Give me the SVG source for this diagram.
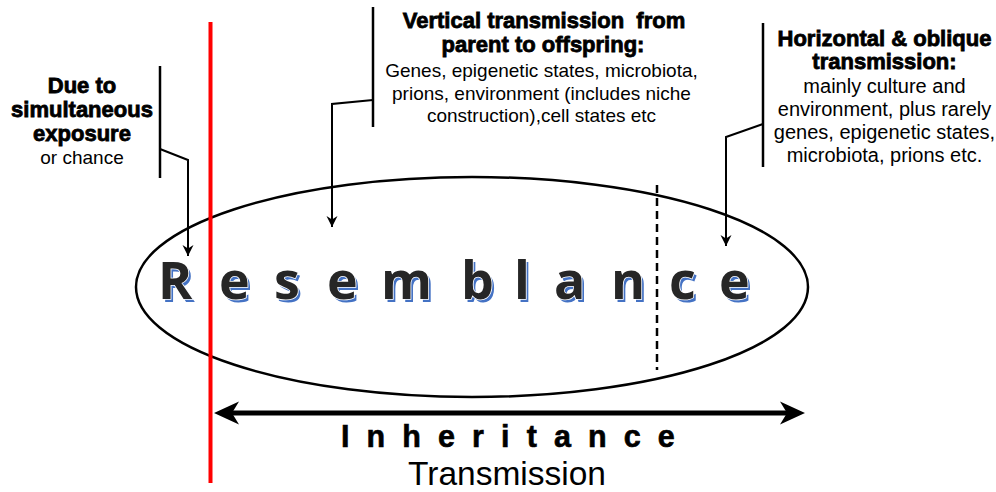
<svg xmlns="http://www.w3.org/2000/svg" width="996" height="492" viewBox="0 0 996 492">
  <style>
    .bold { font-family: "Liberation Sans", Arial, sans-serif; font-weight: bold; font-size: 22px; fill: #000; stroke: #000; stroke-width: 0.8; text-anchor: middle; }
    .reg { font-family: "Liberation Sans", Arial, sans-serif; font-size: 19px; fill: #000; text-anchor: middle; }
    .reg20 { font-size: 20px; }
    .bracket { fill: none; stroke: #000; stroke-width: 2.5; }
    .conn { fill: none; stroke: #000; stroke-width: 2; }
    .big { font-family: "Open Sans", "Noto Sans", sans-serif; font-weight: bold; font-size: 52px; }
  </style>
  <defs>
    <marker id="tip" viewBox="0 0 12 12" refX="11" refY="6" markerWidth="12" markerHeight="12" markerUnits="userSpaceOnUse" orient="auto">
      <path d="M0,0.5 L11,6 L0,11.5 L3.5,6 Z" fill="#000"/>
    </marker>
  </defs>

  <!-- the resemblance ellipse with its letters -->
  <g id="resemblance">
    <ellipse cx="472" cy="287" rx="336" ry="110" fill="none" stroke="#000" stroke-width="2.5"/>
    <line x1="657" y1="185" x2="657" y2="370" stroke="#000" stroke-width="2.5" stroke-dasharray="8,5"/>
    <text class="big" fill="#4472C4" x="160.5 221.5 276.5 329.5 383.5 463.5 516.5 556.5 613.5 671.5 721.5" y="301.5">Resemblance</text>
    <text class="big" fill="#262626" stroke="#fff" stroke-width="1.6" paint-order="stroke" x="158 219 274 327 381 461 514 554 611 669 719" y="299">Resemblance</text>
  </g>

  <!-- left note -->
  <g id="note-chance">
    <text class="bold" x="82" y="93">Due to</text>
    <text class="bold" x="82" y="117">simultaneous</text>
    <text class="bold" x="82" y="141">exposure</text>
    <text class="reg" x="82" y="164">or chance</text>
    <line class="bracket" x1="160" y1="66" x2="160" y2="178"/>
  </g>

  <!-- middle note -->
  <g id="note-vertical">
    <text class="bold" x="544" y="28" xml:space="preserve">Vertical transmission  from</text>
    <text class="bold" x="543" y="52">parent to offspring:</text>
    <text class="reg" x="541.5" y="77">Genes, epigenetic states, microbiota,</text>
    <text class="reg" x="541.5" y="99.5">prions, environment (includes niche</text>
    <text class="reg" x="541.5" y="122">construction),cell states etc</text>
    <line class="bracket" x1="373" y1="7" x2="373" y2="127"/>
  </g>

  <!-- right note -->
  <g id="note-horizontal">
    <text class="bold" x="884.5" y="46">Horizontal &amp; oblique</text>
    <text class="bold" x="884.5" y="69">transmission:</text>
    <text class="reg reg20" x="884.5" y="92.5">mainly culture and</text>
    <text class="reg reg20" x="884.5" y="115.5">environment, plus rarely</text>
    <text class="reg reg20" x="884.5" y="138.5">genes, epigenetic states,</text>
    <text class="reg reg20" x="884.5" y="161.5">microbiota, prions etc.</text>
    <line class="bracket" x1="763" y1="23" x2="763" y2="167"/>
  </g>

  <!-- inheritance span -->
  <g id="inheritance">
    <line x1="230" y1="413" x2="790" y2="413" stroke="#000" stroke-width="5"/>
    <path d="M214,413 L239,401.5 L232,413 L239,424.5 Z" fill="#000"/>
    <path d="M805,413 L780,401.5 L787,413 L780,424.5 Z" fill="#000"/>
    <text x="341" y="447" font-family="'Liberation Sans', Arial, sans-serif" font-weight="bold" font-size="30.5" stroke="#000" stroke-width="0.6" letter-spacing="17.1">Inheritance</text>
    <text x="507" y="485" text-anchor="middle" font-family="'Liberation Sans', Arial, sans-serif" font-size="33.5">Transmission</text>
  </g>

  <!-- red divider -->
  <g id="divider">
    <line x1="210.5" y1="22" x2="210.5" y2="483" stroke="#FF0000" stroke-width="4"/>
  </g>

  <!-- connectors from the notes into the ellipse -->
  <g id="connectors">
    <polyline class="conn" points="160,149 188,160 188,256" marker-end="url(#tip)"/>
    <polyline class="conn" points="373,100 332,104 332,227" marker-end="url(#tip)"/>
    <polyline class="conn" points="763,124 726,137 726,246" marker-end="url(#tip)"/>
  </g>
</svg>
